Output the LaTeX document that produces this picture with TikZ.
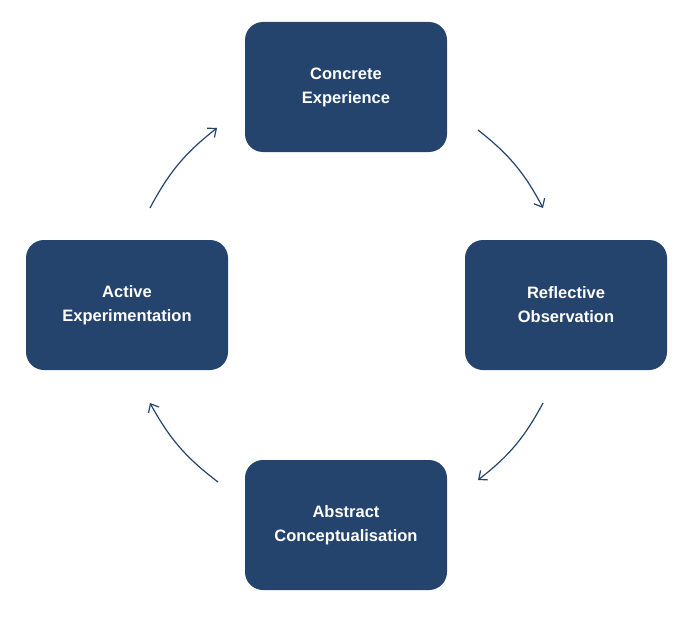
\documentclass[tikz,border=0pt]{standalone}
\usepackage{fontspec}
\setmainfont{Liberation Sans}
\usetikzlibrary{arrows.meta}
\definecolor{stagenavy}{HTML}{24446E}
\tikzset{
  stage/.style={fill=stagenavy, rounded corners=18pt, minimum width=202pt, minimum height=130pt,
    text=white, align=center, font=\fontsize{16.5}{24}\selectfont\bfseries},
  cycle/.style={draw=stagenavy, line width=1.2pt, -{Straight Barb[length=7pt,width=12pt]}}
}
\begin{document}
\begin{tikzpicture}[x=1pt,y=-1pt]
                \useasboundingbox (0,0) rectangle (691,618);
                \node[stage] (CE) at (346,87) {Concrete\\Experience};
                \node[stage] (RO) at (566,305) {Reflective\\Observation};
                \node[stage] (AC) at (346,525) {Abstract\\Conceptualisation};
                \node[stage] (AE) at (127,305) {Active\\Experimentation};
                \coordinate (CEout) at (478,130);
                \coordinate (ROin) at (543,208);
                \coordinate (ROout) at (543,403);
                \coordinate (ACin) at (478,480);
                \coordinate (ACout) at (218,482);
                \coordinate (AEin) at (150,403);
                \coordinate (AEout) at (150,208);
                \coordinate (CEin) at (217,128);
                \draw[cycle] (CEout) to[bend left=12] (ROin);
                \draw[cycle] (ROout) to[bend left=12] (ACin);
                \draw[cycle] (ACout) to[bend left=12] (AEin);
                \draw[cycle] (AEout) to[bend left=12] (CEin);
            \end{tikzpicture}
\end{document}
